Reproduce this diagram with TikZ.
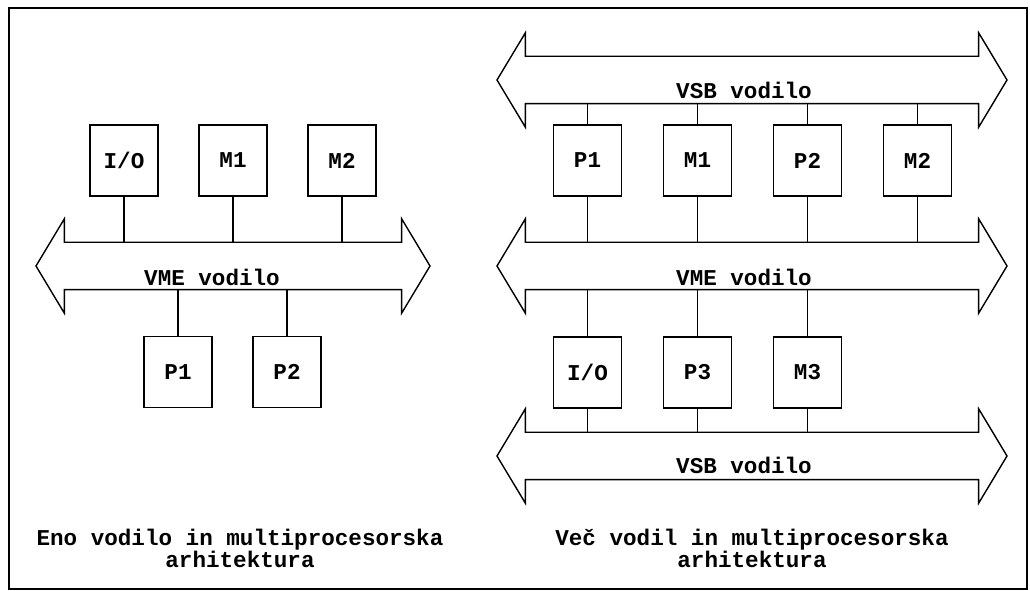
\documentclass[tikz,border=0pt]{standalone}
\usepackage{fontspec}
\setmonofont{Liberation Mono}
\usepackage{tikz}
\usetikzlibrary{shapes.arrows, positioning}
\tikzstyle{unit} = [rectangle, draw=black, line width=1.4pt, minimum width=68pt, minimum height=71pt, inner sep=0pt, text centered, font=\ttfamily\bfseries\fontsize{22.6}{22}\selectfont]
\tikzstyle{bus} = [double arrow, draw=black, line width=1.4pt, inner xsep=0pt, inner ysep=23pt, double arrow head extend=23.5pt, double arrow tip angle=118]
\tikzstyle{tag} = [inner sep=0pt, font=\ttfamily\bfseries\fontsize{22.6}{22}\selectfont]
\tikzstyle{wire} = [line width=1.4pt]

\begin{document}
\begin{tikzpicture}[x=1pt, y=1pt, node distance=109pt]
\useasboundingbox (0,0) rectangle (1030,591);
\draw [line width=1.2pt] (9,2) rectangle (1027,583);

% Left: one bus
\node (vmeA) [bus, minimum height=394pt] at (233,325) {};
\node (vmeAlab) [tag] at (212,314) {VME vodilo};
\coordinate (vmeAtop) at (233,348);
\coordinate (vmeAbot) at (233,302);

\node (ioA) [unit] at (124,430.5) {I/O};
\node (m1A) [unit, right of=ioA] {M1};
\node (m2A) [unit, right of=m1A] {M2};
\node (p1A) [unit] at (178,219) {P1};
\node (p2A) [unit, right of=p1A] {P2};

\draw [wire] (ioA.south) -- (ioA.south |- vmeAtop);
\draw [wire] (m1A.south) -- (m1A.south |- vmeAtop);
\draw [wire] (m2A.south) -- (m2A.south |- vmeAtop);
\draw [wire] (p1A.north) -- (p1A.north |- vmeAbot);
\draw [wire] (p2A.north) -- (p2A.north |- vmeAbot);

\node (capA) [tag, align=center] at (240,43) {Eno vodilo in multiprocesorska\\arhitektura};

% Right: three buses
\node (vsbB) [bus, minimum height=510pt] at (752,511) {};
\node (vsbBlab) [tag] at (744,501) {VSB vodilo};
\coordinate (vsbBbot) at (752,488);

\node (vmeB) [bus, minimum height=510pt] at (752,325) {};
\node (vmeBlab) [tag] at (744,314) {VME vodilo};
\coordinate (vmeBtop) at (752,348);
\coordinate (vmeBbot) at (752,302);

\node (vsbC) [bus, minimum height=510pt] at (752,135) {};
\node (vsbClab) [tag] at (744,126) {VSB vodilo};
\coordinate (vsbCtop) at (752,158);

\node (p1B) [unit] at (587.5,430.5) {P1};
\node (m1B) [unit, right of=p1B, node distance=110pt] {M1};
\node (p2B) [unit, right of=m1B, node distance=110pt] {P2};
\node (m2B) [unit, right of=p2B, node distance=110pt] {M2};

\node (ioB) [unit] at (587.5,218.5) {I/O};
\node (p3B) [unit, right of=ioB, node distance=110pt] {P3};
\node (m3B) [unit, right of=p3B, node distance=110pt] {M3};

\foreach \n in {p1B, m1B, p2B, m2B} {
  \draw [wire] (\n.north) -- (\n.north |- vsbBbot);
  \draw [wire] (\n.south) -- (\n.south |- vmeBtop);
}
\foreach \n in {ioB, p3B, m3B} {
  \draw [wire] (\n.north) -- (\n.north |- vmeBbot);
  \draw [wire] (\n.south) -- (\n.south |- vsbCtop);
}

\node (capB) [tag, align=center] at (752,43) {Več vodil in multiprocesorska\\arhitektura};

\end{tikzpicture}
\end{document}
